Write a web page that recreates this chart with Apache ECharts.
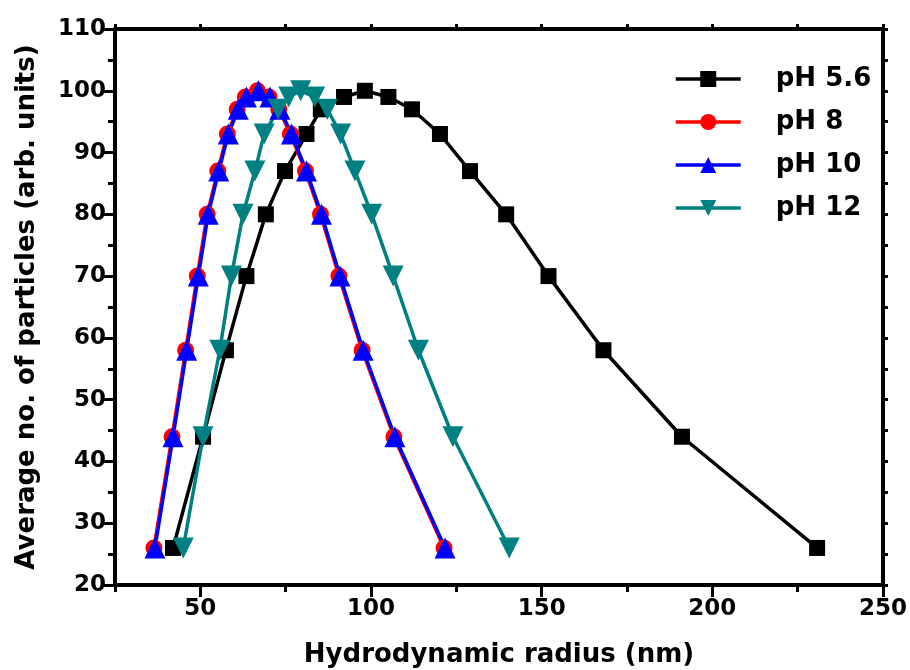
<!DOCTYPE html>
<html>
<head>
<meta charset="utf-8">
<script src="https://cdn.jsdelivr.net/npm/echarts@6/dist/echarts.min.js"></script>
<style>
html,body{margin:0;padding:0;background:#fff;}
#chart{width:910px;height:670px;}
</style>
</head>
<body>
<div id="chart"></div>
<script>
// ---- data ----
var seriesNames = ['pH 5.6', 'pH 8', 'pH 10', 'pH 12'];

var xPh56 = [42.0, 50.8, 57.5, 63.5, 69.2, 74.8, 81.1, 85.3, 92.1, 98.2, 105.1, 112.0, 120.2, 129.0, 139.6, 152.0, 168.1, 191.1, 230.7];
var yPh56 = [26, 44, 58, 70, 80, 87, 93, 97, 99, 100, 99, 97, 93, 87, 80, 70, 58, 44, 26];

var xPh8 = [36.4, 41.7, 45.7, 49.1, 52.0, 55.1, 57.9, 60.8, 63.2, 66.7, 70.1, 73.0, 76.4, 80.8, 85.2, 90.6, 97.4, 106.7, 121.4];
var yPh8 = [26, 44, 58, 70, 80, 87, 93, 97, 99, 100, 99, 97, 93, 87, 80, 70, 58, 44, 26];

var xPh10 = [36.7, 42.0, 46.0, 49.4, 52.3, 55.4, 58.2, 61.1, 63.5, 67.0, 70.4, 73.3, 76.7, 81.1, 85.5, 90.9, 97.7, 107.0, 121.7];
var yPh10 = [26, 44, 58, 70, 80, 87, 93, 97, 99, 100, 99, 97, 93, 87, 80, 70, 58, 44, 26];

var xPh12 = [45.0, 50.8, 55.7, 59.1, 62.5, 66.0, 68.7, 72.8, 75.9, 79.4, 83.5, 87.2, 91.1, 95.3, 100.2, 106.5, 113.9, 124.0, 140.5];
var yPh12 = [26, 44, 58, 70, 80, 87, 93, 97, 99, 100, 99, 97, 93, 87, 80, 70, 58, 44, 26];

var xMajorTicks = [50, 100, 150, 200, 250];
var xMinorTicks = [25, 75, 125, 175, 225];
var xAllTicks = [25, 50, 75, 100, 125, 150, 175, 200, 225, 250];

var xTitle = 'Hydrodynamic radius (nm)';
var yTitle = 'Average no. of particles (arb. units)';

// ---- chart ----
function pairs(xs, ys) { return xs.map(function (x, i) { return [x, ys[i]]; }); }

var FONT = 'DejaVu Sans';
var axisLineStyle = { color: '#000', width: 4 };

var chart = echarts.init(document.getElementById('chart'), null, { renderer: 'canvas' });

function mkSeries(name, xs, ys, color, symbol, size, rotate) {
  return {
    name: name, type: 'line', xAxisIndex: 0, yAxisIndex: 0,
    data: pairs(xs, ys),
    symbol: symbol, symbolSize: size, symbolRotate: rotate || 0,
    showAllSymbol: true,
    lineStyle: { color: color, width: 3.5 },
    itemStyle: { color: color, borderWidth: 0 },
    emphasis: { disabled: true },
    animation: false
  };
}

chart.setOption({
  backgroundColor: '#fff',
  animation: false,
  grid: { left: 115, right: 27, top: 29, bottom: 85, containLabel: false, outerBoundsMode: 'none' },
  legend: {
    data: seriesNames,
    orient: 'vertical',
    left: 669, top: 61,
    itemWidth: 65, itemHeight: 20, itemGap: 17,
    textStyle: { fontFamily: FONT, fontWeight: 'bold', fontSize: 26, color: '#000', lineHeight: 26, padding: [0, 0, 0, 30] },
    lineStyle: { width: 3.5 }
  },
  xAxis: [
    {
      type: 'value', position: 'bottom', min: 25, max: 250,
      name: xTitle, nameLocation: 'middle', nameGap: 57,
      nameTextStyle: { fontFamily: FONT, fontWeight: 'bold', fontSize: 26, color: '#000' },
      axisLine: { show: true, onZero: false, lineStyle: axisLineStyle },
      axisTick: { show: true, customValues: xMajorTicks, length: 12, lineStyle: { color: '#000', width: 3 } },
      axisLabel: { customValues: xMajorTicks, margin: 13, fontFamily: FONT, fontWeight: 'bold', fontSize: 23, color: '#000' },
      splitLine: { show: false }
    },
    {
      type: 'value', position: 'bottom', min: 25, max: 250, gridIndex: 0,
      axisLine: { show: false, onZero: false },
      axisTick: { show: true, customValues: xMinorTicks, length: 7, lineStyle: { color: '#000', width: 3 } },
      axisLabel: { show: false },
      splitLine: { show: false }
    },
    {
      type: 'value', position: 'top', min: 25, max: 250, gridIndex: 0,
      axisLine: { show: true, onZero: false, lineStyle: axisLineStyle },
      axisTick: { show: true, customValues: xAllTicks, length: 5, lineStyle: { color: '#000', width: 3 } },
      axisLabel: { show: false },
      splitLine: { show: false }
    }
  ],
  yAxis: [
    {
      type: 'value', position: 'left', min: 20, max: 110, interval: 10,
      name: yTitle, nameLocation: 'middle', nameGap: 75,
      nameTextStyle: { fontFamily: FONT, fontWeight: 'bold', fontSize: 26, color: '#000' },
      axisLine: { show: true, onZero: false, lineStyle: axisLineStyle },
      axisTick: { show: true, length: 12, lineStyle: { color: '#000', width: 3 } },
      minorTick: { show: true, splitNumber: 2, length: 7, lineStyle: { color: '#000', width: 3 } },
      axisLabel: { margin: 9, fontFamily: FONT, fontWeight: 'bold', fontSize: 23, color: '#000' },
      splitLine: { show: false }, minorSplitLine: { show: false }
    },
    {
      type: 'value', position: 'right', min: 20, max: 110, interval: 10,
      axisLine: { show: true, onZero: false, lineStyle: axisLineStyle },
      axisTick: { show: true, length: 5, lineStyle: { color: '#000', width: 3 } },
      minorTick: { show: true, splitNumber: 2, length: 5, lineStyle: { color: '#000', width: 3 } },
      axisLabel: { show: false },
      splitLine: { show: false }, minorSplitLine: { show: false }
    }
  ],
  series: [
    mkSeries(seriesNames[0], xPh56, yPh56, '#000000', 'rect', 16),
    mkSeries(seriesNames[1], xPh8, yPh8, '#ff0000', 'circle', 17),
    mkSeries(seriesNames[2], xPh10, yPh10, '#0000ff', 'triangle', 21),
    mkSeries(seriesNames[3], xPh12, yPh12, '#008080', 'triangle', 21, 180)
  ]
});
</script>
</body>
</html>
